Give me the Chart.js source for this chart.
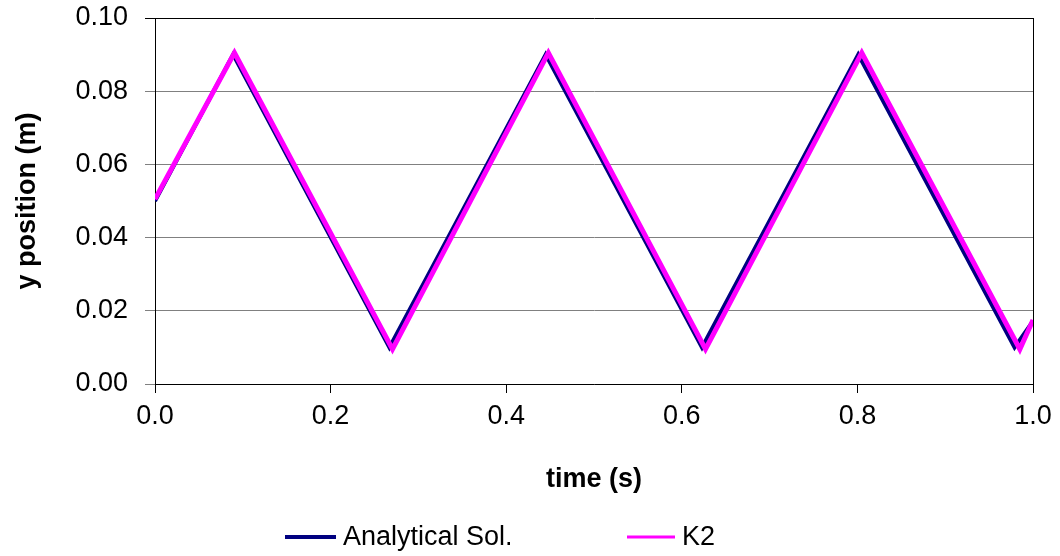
<!DOCTYPE html>
<html>
<head>
<meta charset="utf-8">
<script src="https://cdn.jsdelivr.net/npm/chart.js@4.4.1/dist/chart.umd.min.js"></script>
<style>
  html, body { margin: 0; padding: 0; background: #ffffff; }
  canvas { display: block; }
</style>
</head>
<body>
<canvas id="c" width="1060" height="556"></canvas>
<script>
// ---- data ----
const analyticalTime = [0.0, 0.089, 0.267, 0.445, 0.623, 0.801, 0.979, 1.0];
const analyticalY    = [0.050, 0.090, 0.010, 0.090, 0.010, 0.090, 0.010, 0.0172];
const k2Time = [0.0, 0.0905, 0.2705, 0.448, 0.627, 0.805, 0.985, 1.0];
const k2Y    = [0.0505, 0.0905, 0.0095, 0.0905, 0.0095, 0.0905, 0.0095, 0.0175];
const xTickLabels = ['0.0', '0.2', '0.4', '0.6', '0.8', '1.0'];
const yTickLabels = ['0.00', '0.02', '0.04', '0.06', '0.08', '0.10'];
const seriesNames = ['Analytical Sol.', 'K2'];
const xTitle = 'time (s)';
const yTitle = 'y position (m)';

const FONT = 'Arial, "Liberation Sans", sans-serif';
const toXY = (xs, ys) => xs.map((x, i) => ({ x: x, y: ys[i] }));

const bottomLegend = {
  id: 'bottomLegend',
  afterDraw(chart) {
    const ctx = chart.ctx;
    const items = [
      { ds: chart.data.datasets[0], x0: 285, x1: 336, tx: 343, w: 4 },
      { ds: chart.data.datasets[1], x0: 627, x1: 675, tx: 682, w: 3 }
    ];
    const y = 537;
    ctx.save();
    items.forEach(it => {
      ctx.strokeStyle = it.ds.borderColor;
      ctx.lineWidth = it.w;
      ctx.beginPath();
      ctx.moveTo(it.x0, y);
      ctx.lineTo(it.x1, y);
      ctx.stroke();
      ctx.fillStyle = '#000';
      ctx.font = '27px ' + FONT;
      ctx.textAlign = 'left';
      ctx.textBaseline = 'middle';
      ctx.fillText(it.ds.label, it.tx, y + 1);
    });
    ctx.restore();
  }
};

new Chart(document.getElementById('c'), {
  type: 'line',
  data: {
    datasets: [
      {
        label: seriesNames[0],
        data: toXY(analyticalTime, analyticalY),
        borderColor: '#000080',
        backgroundColor: '#000080',
        borderWidth: 4,
        pointRadius: 0,
        tension: 0,
        order: 1
      },
      {
        label: seriesNames[1],
        data: toXY(k2Time, k2Y),
        borderColor: '#FF00FF',
        backgroundColor: '#FF00FF',
        borderWidth: 5,
        pointRadius: 0,
        tension: 0,
        order: 0
      }
    ]
  },
  options: {
    responsive: false,
    animation: false,
    devicePixelRatio: 1,
    layout: { padding: { left: 0, right: 27, top: 18, bottom: 56 } },
    plugins: {
      legend: { display: false },
      tooltip: { enabled: false }
    },
    scales: {
      x: {
        type: 'linear',
        min: 0, max: 1,
        afterFit(scale) { scale.height = 116; },
        border: { display: true, color: '#000', width: 1 },
        grid: {
          drawOnChartArea: true,
          color: (c) => (c.index === xTickLabels.length - 1 ? '#000' : 'rgba(0,0,0,0)'),
          tickColor: '#000',
          tickLength: 9,
          lineWidth: 1
        },
        ticks: {
          stepSize: 0.2,
          padding: 7,
          color: '#000',
          font: { family: FONT, size: 27 },
          maxRotation: 0,
          callback: (v, i) => xTickLabels[i]
        },
        title: {
          display: true,
          text: xTitle,
          color: '#000',
          font: { family: FONT, size: 27, weight: 'bold' },
          padding: { top: 4, bottom: 4 }
        }
      },
      y: {
        type: 'linear',
        min: 0, max: 0.1,
        afterFit(scale) {
          scale.width = 155;
          scale.paddingTop = 0;
          scale.paddingBottom = 0;
        },
        border: { display: true, color: '#000', width: 1 },
        grid: {
          color: (c) => (c.tick && Math.abs(c.tick.value - 0.1) < 1e-9 ? '#000' : '#808080'),
          tickLength: 10,
          lineWidth: 1
        },
        ticks: {
          stepSize: 0.02,
          padding: 17,
          color: '#000',
          font: { family: FONT, size: 27 },
          callback: (v, i) => yTickLabels[i]
        },
        title: {
          display: true,
          text: yTitle,
          color: '#000',
          font: { family: FONT, size: 27, weight: 'bold' },
          padding: { top: 11, bottom: 4 }
        }
      }
    }
  },
  plugins: [bottomLegend]
});
</script>
</body>
</html>
